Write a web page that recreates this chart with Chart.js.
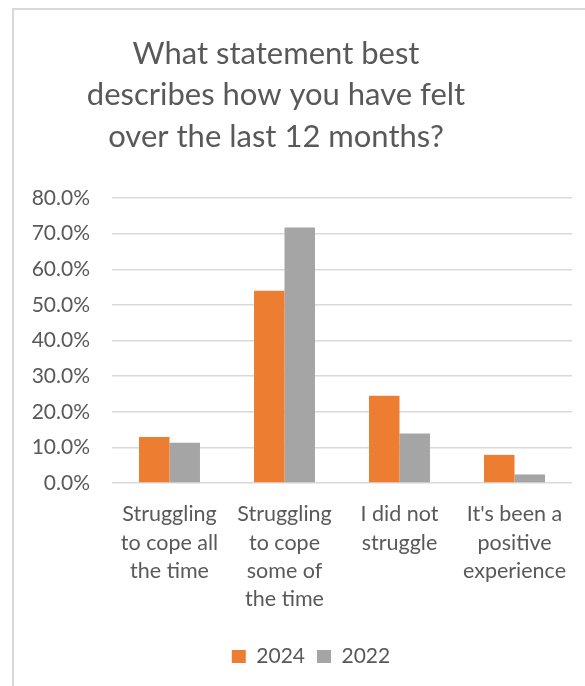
<!DOCTYPE html>
<html>
<head>
<meta charset="utf-8">
<script src="https://cdn.jsdelivr.net/npm/chart.js@4.4.1/dist/chart.umd.min.js"></script>
<style>
  html, body { margin: 0; padding: 0; background: #fff; }
  #wrap { position: relative; width: 585px; height: 686px; overflow: hidden; }
  #frame {
    position: absolute; left: 12px; top: 8px; width: 620px; height: 720px;
    border-left: 2px solid #d9d9d9; border-top: 2px solid #d9d9d9;
  }
  canvas { position: absolute; left: 0; top: 0; }
</style>
</head>
<body>
<div id="wrap">
  <div id="frame"></div>
  <canvas id="chart" width="585" height="686"></canvas>
</div>
<script>
// Survey answers, share of respondents per year
const categories = [
  ["Struggling", "to cope all", "the time"],
  ["Struggling", "to cope", "some of", "the time"],
  ["I did not", "struggle"],
  ["It's been a", "positive", "experience"]
];
const values2024 = [12.9, 54.0, 24.5, 7.9];
const values2022 = [11.3, 71.7, 13.9, 2.4];
const yTicks = [0, 10, 20, 30, 40, 50, 60, 70, 80];
const titleLines = [
  "What statement best",
  "describes how you have felt",
  "over the last 12 months?"
];

const FONT = "Lato, 'Open Sans', sans-serif";
const TEXT = "#595959";

// title drawn by hand so it can sit slightly left of centre
const titlePlugin = {
  id: "surveyTitle",
  afterDraw(chart) {
    const ctx = chart.ctx;
    ctx.save();
    ctx.fillStyle = TEXT;
    ctx.font = "31px " + FONT;
    ctx.textAlign = "center";
    ctx.textBaseline = "alphabetic";
    const baselines = [64, 105, 147];
    titleLines.forEach((t, i) => ctx.fillText(t, 276, baselines[i]));
    ctx.restore();
  }
};

// nudge the legend row a little to the right
const legendShift = {
  id: "legendShift",
  afterLayout(chart) {
    chart.legend.left += 12;
    chart.legend.right += 12;
  }
};

const ctx = document.getElementById("chart").getContext("2d");
new Chart(ctx, {
  type: "bar",
  data: {
    labels: categories,
    datasets: [
      { label: "2024", data: values2024, backgroundColor: "#ed7d31" },
      { label: "2022", data: values2022, backgroundColor: "#a5a5a5" }
    ]
  },
  options: {
    responsive: false,
    animation: false,
    datasets: { bar: { categoryPercentage: 0.53, barPercentage: 1 } },
    layout: { padding: { left: 26, right: 13, top: 198, bottom: 9 } },
    plugins: {
      title: { display: false },
      tooltip: { enabled: false },
      legend: {
        position: "bottom",
        labels: {
          color: TEXT,
          font: { family: FONT, size: 21 },
          boxWidth: 14,
          boxHeight: 13,
          padding: 12
        }
      }
    },
    scales: {
      x: {
        grid: { display: false, drawTicks: false },
        border: { display: false },
        ticks: {
          color: TEXT,
          font: { family: FONT, size: 21.5, lineHeight: 1.32 },
          padding: 17,
          maxRotation: 0,
          autoSkip: false
        },
        afterFit(scale) { scale.height = 151; }
      },
      y: {
        min: 0,
        max: 80,
        afterBuildTicks(scale) { scale.ticks = yTicks.map(v => ({ value: v })); },
        grid: { color: "#d9d9d9", lineWidth: 1.5, drawTicks: false },
        border: { display: false },
        ticks: {
          color: TEXT,
          font: { family: FONT, size: 21 },
          padding: 22,
          callback: v => v.toFixed(1) + "%"
        },
        afterFit(scale) { scale.width = 86; }
      }
    }
  },
  plugins: [titlePlugin, legendShift]
});
</script>
</body>
</html>
